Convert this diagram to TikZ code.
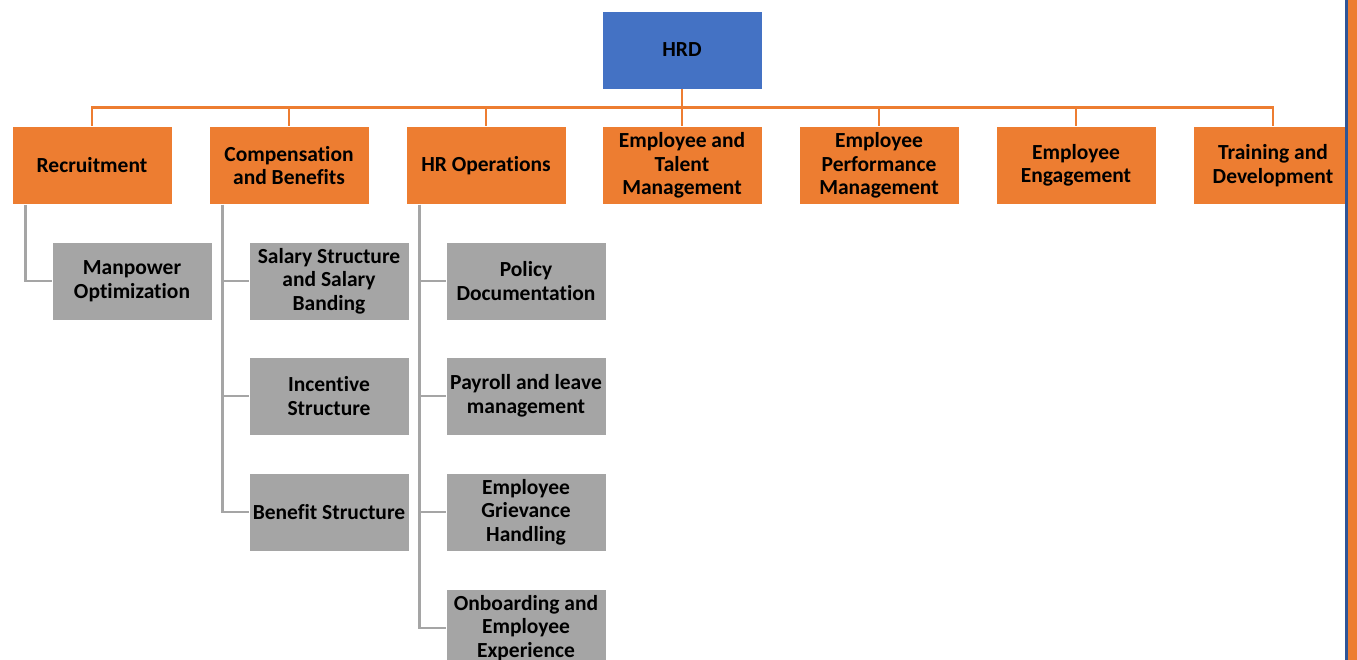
\documentclass[tikz,border=0pt]{standalone}
\usepackage{fontspec}
\setmainfont{Carlito}[Ligatures=NoCommon]

\definecolor{hrblue}{RGB}{68,114,196}
\definecolor{hrorange}{RGB}{237,125,49}
\definecolor{hrgray}{RGB}{165,165,165}
\definecolor{edgeblue}{RGB}{47,85,151}

\begin{document}
\begin{tikzpicture}[x=1pt,y=-1pt,
  box/.style={draw=white,line width=0.8pt,minimum width=160pt,minimum height=78pt,
    inner sep=2pt,align=center,font=\fontsize{21.5}{23.5}\selectfont\bfseries},
  head/.style={box,fill=hrblue},
  dept/.style={box,fill=hrorange},
  task/.style={box,fill=hrgray},
  topline/.style={draw=hrorange,line width=2.5pt},
  subline/.style={draw=hrgray,line width=2.5pt}]
\clip (0,0) rectangle (1357,660);

% head and departments
\node[head] (hrd) at (682,50) {HRD};
\foreach \nm/\cx/\txt in {rec/92/Recruitment, comp/289/{Compensation\\and Benefits},
    hrops/486/HR Operations, talent/682/{Employee and\\Talent\\Management},
    perf/879/{Employee\\Performance\\Management}, engage/1076/{Employee\\Engagement},
    train/1273/{Training and\\Development}}
  \node[dept] (\nm) at (\cx,165.5) {\txt};
\foreach \nm in {rec,comp,hrops,talent,perf,engage,train}
  \draw[topline] (hrd.south) -- ++(0,18) -| (\nm.north);

% recruitment
\node[task] (manp) at (132,281) {Manpower\\Optimization};
\draw[subline] ([xshift=14pt]rec.south west) |- (manp.west);

% compensation and benefits
\node[task] (salary) at (329,281) {Salary Structure\\and Salary\\Banding};
\node[task] (incent) at (329,396) {Incentive\\Structure};
\node[task] (benefit) at (329,512) {Benefit Structure};
\foreach \nm in {salary,incent,benefit}
  \draw[subline] ([xshift=14pt]comp.south west) |- (\nm.west);

% hr operations
\node[task] (policy) at (526,281) {Policy\\Documentation};
\node[task] (payroll) at (526,396) {Payroll and leave\\management};
\node[task] (grieve) at (526,512) {Employee\\Grievance\\Handling};
\node[task] (onboard) at (526,628) {Onboarding and\\Employee\\Experience};
\foreach \nm in {policy,payroll,grieve,onboard}
  \draw[subline] ([xshift=14pt]hrops.south west) |- (\nm.west);

% page edge
\fill[edgeblue] (1345,0) rectangle (1348,660);
\fill[hrorange] (1348,0) rectangle (1357,660);
\end{tikzpicture}
\end{document}
